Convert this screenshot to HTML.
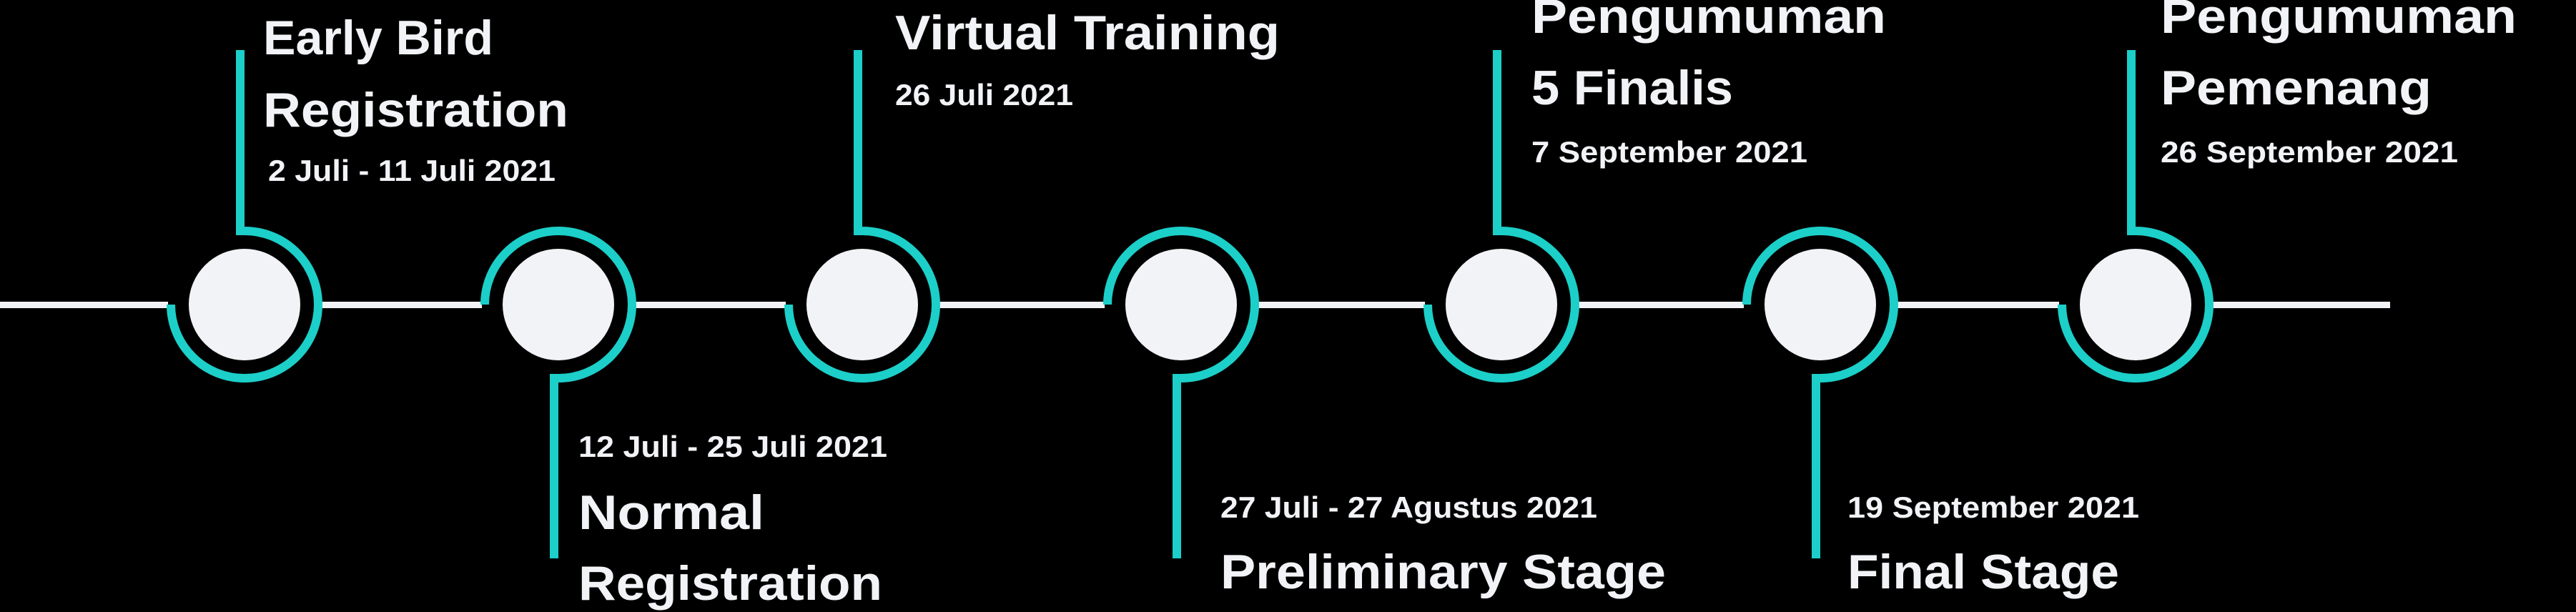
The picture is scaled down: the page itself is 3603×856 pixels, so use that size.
<!DOCTYPE html>
<html><head><meta charset="utf-8"><style>
html,body{margin:0;padding:0;background:#000;width:3603px;height:856px;overflow:hidden}
svg{display:block}
.t{font-family:"Liberation Sans",sans-serif;font-weight:bold;fill:#f2f3f7}
.d{font-family:"Liberation Sans",sans-serif;font-weight:bold;fill:#f2f3f7}
</style></head><body>
<svg id="chart" width="3603" height="856" viewBox="0 0 3603 856" xmlns="http://www.w3.org/2000/svg">
<rect width="3603" height="856" fill="#000"/>
<rect x="0" y="422" width="3343" height="9" fill="#f2f3f7"/>
<g id="nodes"></g>
<g id="labels"></g>
</svg>
<script>
const nodeX = [342, 781, 1206, 1652, 2100, 2546, 2987];
const nodeDir = ['up','down','up','down','up','down','up'];
const titles = [["Early Bird","Registration"],["Normal","Registration"],["Virtual Training"],["Preliminary Stage"],["Pengumuman","5 Finalis"],["Final Stage"],["Pengumuman","Pemenang"]];
const dates = ["2 Juli - 11 Juli 2021","12 Juli - 25 Juli 2021","26 Juli 2021","27 Juli - 27 Agustus 2021","7 September 2021","19 September 2021","26 September 2021"];
const titleLayout = [
 {x:368, ys:[76,177], ws:[322,427], dy:253, dx:375, dw:402},
 {x:809, ys:[740,839], ws:[260,425], dy:639, dx:809, dw:432},
 {x:1252, ys:[69], ws:[538], dy:147, dx:1252, dw:249},
 {x:1707, ys:[823], ws:[623], dy:724, dx:1707, dw:527},
 {x:2142, ys:[46,146], ws:[496,282], dy:227, dx:2142, dw:386},
 {x:2584, ys:[823], ws:[380], dy:724, dx:2584, dw:408},
 {x:3022, ys:[46,146], ws:[498,379], dy:227, dx:3022, dw:416}
];
const NS="http://www.w3.org/2000/svg";
const cy=426, rIn=78, rRing=103, teal="#1ccfc9";
const gN=document.getElementById('nodes'), gL=document.getElementById('labels');
nodeX.forEach((cx,i)=>{
  const g=document.createElementNS(NS,'g');
  
  
  const bg=document.createElementNS(NS,'circle');
  bg.setAttribute('cx',cx);bg.setAttribute('cy',cy);bg.setAttribute('r',rRing+4);bg.setAttribute('fill','#000');
  g.appendChild(bg);
  const p=document.createElementNS(NS,'path');
  
  
  const vx=cx-6;
  let d;
  if(nodeDir[i]==='up'){
    d=`M${cx-rRing},${cy} A${rRing},${rRing} 0 1 0 ${cx},${cy-rRing} L${vx},${cy-rRing} L${vx},70`;
  } else {
    d=`M${cx-rRing},${cy} A${rRing},${rRing} 0 1 1 ${cx},${cy+rRing} L${vx},${cy+rRing} L${vx},781`;
  }
  p.setAttribute('d',d);p.setAttribute('fill','none');p.setAttribute('stroke',teal);p.setAttribute('stroke-width','12');
  g.appendChild(p);
  const c=document.createElementNS(NS,'circle');
  
  
  c.setAttribute('cx',cx);c.setAttribute('cy',cy);c.setAttribute('r',rIn);c.setAttribute('fill','#f2f3f7');
  g.appendChild(c);
  gN.appendChild(g);
  const L=titleLayout[i];
  titles[i].forEach((s,j)=>{
    const t=document.createElementNS(NS,'text');
    
    
    t.setAttribute('class','t');t.setAttribute('x',L.x);t.setAttribute('y',L.ys[j]);
    t.setAttribute('font-size','68');t.setAttribute('textLength',L.ws[j]);t.setAttribute('lengthAdjust','spacingAndGlyphs');
    t.textContent=s;gL.appendChild(t);
  });
  const dt=document.createElementNS(NS,'text');
  
  
  dt.setAttribute('class','d');dt.setAttribute('x',L.dx);dt.setAttribute('y',L.dy);
  dt.setAttribute('font-size','42');dt.setAttribute('textLength',L.dw);dt.setAttribute('lengthAdjust','spacingAndGlyphs');
  dt.textContent=dates[i];gL.appendChild(dt);
});
</script>
</body></html>
